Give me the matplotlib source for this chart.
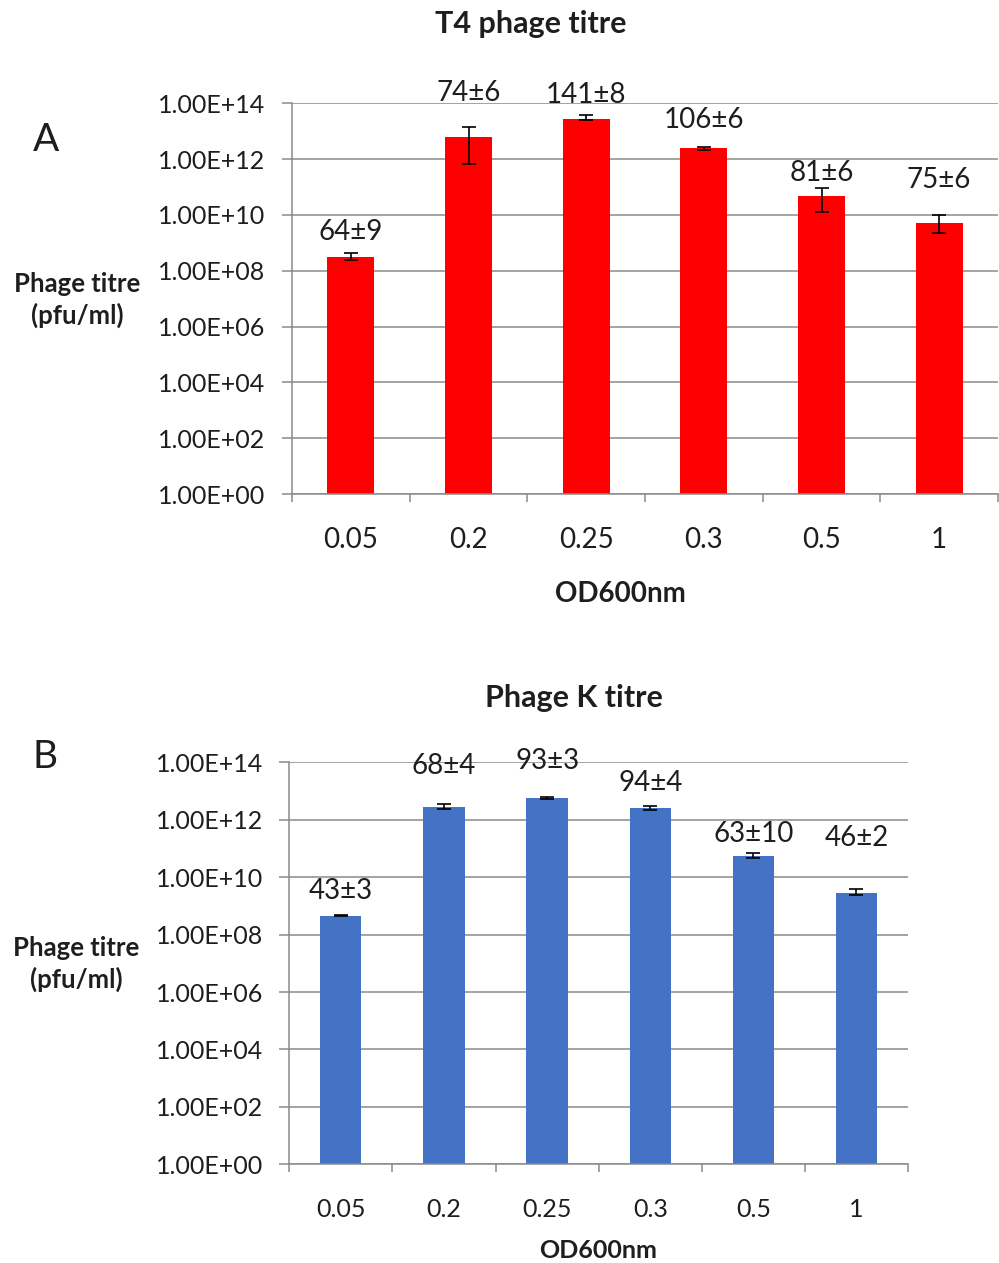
import numpy as np
import matplotlib
matplotlib.use("Agg")
import matplotlib.pyplot as plt
from matplotlib.ticker import FixedLocator, FuncFormatter, NullLocator

plt.rcParams['font.family'] = ['Lato', 'DejaVu Sans']

# OD600 values at which the phage was harvested
od_labels = ['0.05', '0.2', '0.25', '0.3', '0.5', '1']

# T4 phage titre (pfu/ml) and error bar bounds
t4_titre = [3.2e8, 6.4e12, 2.75e13, 2.45e12, 4.9e10, 5.1e9]
t4_upper = [4.5e8, 1.38e13, 3.8e13, 2.8e12, 9.5e10, 9.8e9]
t4_lower = [2.45e8, 6.6e11, 2.6e13, 2.1e12, 1.3e10, 2.2e9]
t4_mean = [64, 74, 141, 106, 81, 75]
t4_sd = [9, 6, 8, 6, 6, 6]

# Phage K titre (pfu/ml) and error bar bounds
k_titre = [4.6e8, 2.7e12, 5.6e12, 2.6e12, 5.4e10, 2.9e9]
k_upper = [4.9e8, 3.4e12, 6.0e12, 2.95e12, 7.2e10, 3.9e9]
k_lower = [4.3e8, 2.3e12, 5.2e12, 2.1e12, 4.5e10, 2.3e9]
k_mean = [43, 68, 93, 94, 63, 46]
k_sd = [3, 4, 3, 4, 10, 2]

W, H = 999, 1263
fig = plt.figure(figsize=(W / 100, H / 100), dpi=100)


def fx(x):
    return x / W


def fy(y):
    return 1 - y / H


grid_col = '#8a8a8a'
txt_col = '#1e1e1e'


def draw_panel(rect, titre, lower, upper, mean, sd, color, label_offsets,
               tick_size, ytick_size):
    ax = fig.add_axes(rect)
    x = np.arange(len(od_labels))
    titre = np.array(titre)
    yerr = [titre - np.array(lower), np.array(upper) - titre]
    ax.bar(x, titre, width=0.4, color=color, zorder=2)
    ax.errorbar(x, titre, yerr=yerr, fmt='none', ecolor='black',
                elinewidth=1.2, capsize=5, capthick=1.2, zorder=3)
    ax.set_yscale('log')
    ax.set_ylim(1, 1e14)
    ax.set_xlim(-0.5, len(od_labels) - 0.5)
    ax.yaxis.set_major_locator(FixedLocator([10.0 ** k for k in range(0, 15, 2)]))
    ax.yaxis.set_minor_locator(NullLocator())
    ax.yaxis.set_major_formatter(FuncFormatter(
        lambda v, p: '1.00E+%02d' % int(round(np.log10(v)))))
    ax.grid(axis='y', color=grid_col, linewidth=1.1, zorder=0)
    ax.set_axisbelow(True)
    for s in ['top', 'right']:
        ax.spines[s].set_visible(False)
    for s in ['left', 'bottom']:
        ax.spines[s].set_color(grid_col)
        ax.spines[s].set_linewidth(1.1)
    ax.tick_params(axis='y', direction='out', length=7, width=1.1,
                   color=grid_col, pad=12, labelsize=ytick_size,
                   labelcolor=txt_col)
    ax.set_xticks(x)
    ax.set_xticklabels(od_labels)
    ax.set_xticks(np.arange(-0.5, len(od_labels)), minor=True)
    ax.tick_params(axis='x', which='major', length=0, pad=24,
                   labelsize=tick_size, labelcolor=txt_col)
    ax.tick_params(axis='x', which='minor', direction='out', length=6,
                   width=1.1, color=grid_col)
    for i in range(len(x)):
        ax.annotate('%d±%d' % (mean[i], sd[i]), (x[i], upper[i]),
                    xytext=(0, label_offsets[i]), textcoords='offset pixels',
                    ha='center', va='center', fontsize=20, color=txt_col)
    return ax


# Panel A: T4 phage
draw_panel([fx(292), fy(494), fx(998) - fx(292), fy(103.3) - fy(494)],
           t4_titre, t4_lower, t4_upper, t4_mean, t4_sd, '#ff0000',
           [21, 34, 20, 27, 15, 35], 20, 18)
fig.text(fx(531), fy(24), 'T4 phage titre', ha='center', va='center',
         fontsize=22, fontweight='bold', color=txt_col)
fig.text(fx(46), fy(140), 'A', ha='center', va='center', fontsize=28,
         color=txt_col)
fig.text(fx(77), fy(300), 'Phage titre\n(pfu/ml)', ha='center', va='center',
         fontsize=18.5, fontweight='bold', linespacing=1.3, color=txt_col)
fig.text(fx(620), fy(594), 'OD600nm', ha='center', va='center',
         fontsize=20, fontweight='bold', color=txt_col)

# Panel B: phage K
draw_panel([fx(289.3), fy(1164.3), fx(908) - fx(289.3), fy(762.3) - fy(1164.3)],
           k_titre, k_lower, k_upper, k_mean, k_sd, '#4472c4',
           [24, 38, 36, 23, 19, 51], 18, 18)
fig.text(fx(574), fy(698), 'Phage K titre', ha='center', va='center',
         fontsize=22, fontweight='bold', color=txt_col)
fig.text(fx(45), fy(757), 'B', ha='center', va='center', fontsize=28,
         color=txt_col)
fig.text(fx(76), fy(964), 'Phage titre\n(pfu/ml)', ha='center', va='center',
         fontsize=18.5, fontweight='bold', linespacing=1.3, color=txt_col)
fig.text(fx(598), fy(1250), 'OD600nm', ha='center', va='center',
         fontsize=18, fontweight='bold', color=txt_col)

fig.savefig('out.png', dpi=100, facecolor='white')
